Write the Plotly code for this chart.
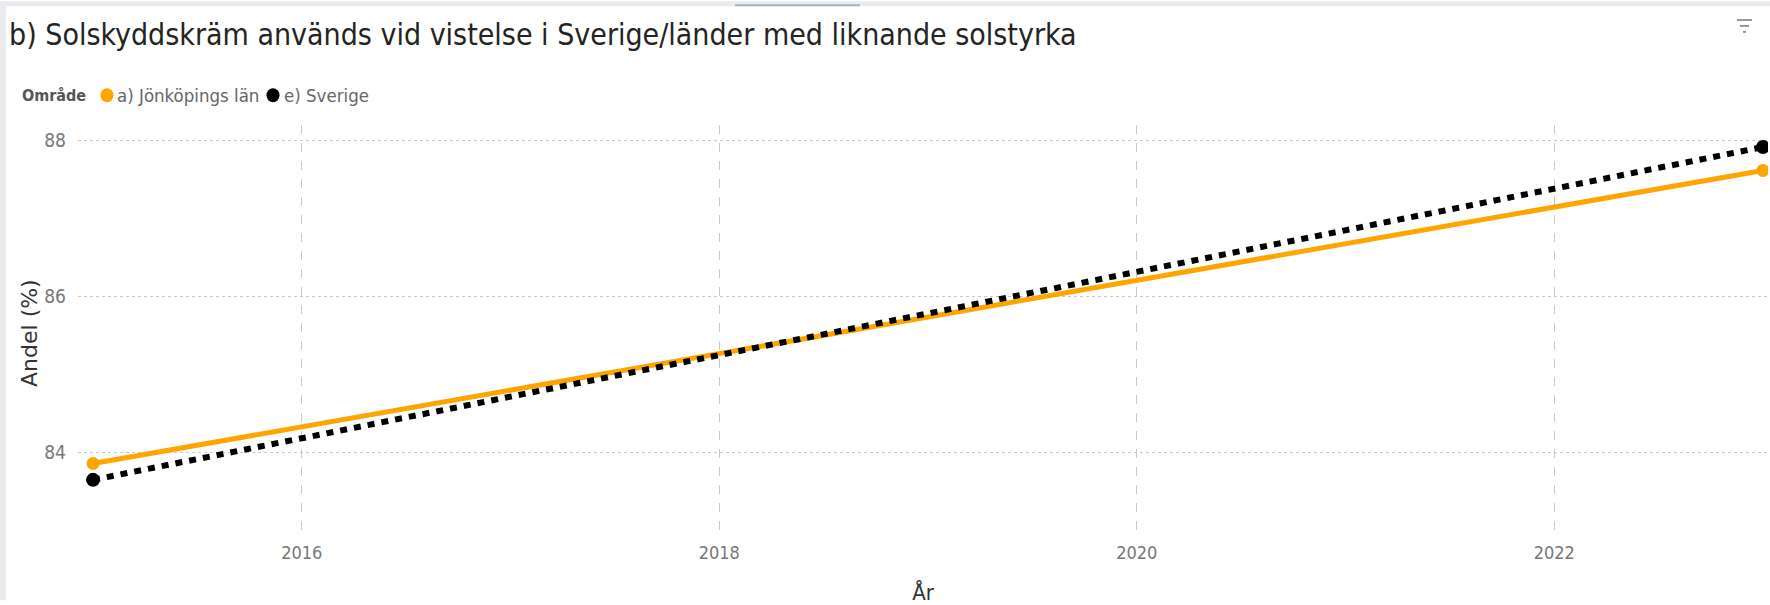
import plotly.graph_objects as go

# ---- data ----
years = [2015, 2023]
jonkoping = [83.86, 87.62]
sverige = [83.65, 87.92]
series_names = ["a) Jönköpings län", "e) Sverige"]
series_colors = ["#FFA500", "#000000"]
x_ticks = [2016, 2018, 2020, 2022]
y_ticks = [84, 86, 88]
title_text = "b) Solskyddskräm används vid vistelse i Sverige/länder med liknande solstyrka"
legend_title = "Område"
x_title = "År"
y_title = "Andel (%)"

# ---- layout geometry ----
W, H = 1770, 605
L, R, T, B = 78, 2, 125, 68
PW, PH = W - L - R, H - T - B


def px(x):
    return (x - L) / PW


def py(y):
    return (H - B - y) / PH


NARROW = "Liberation Sans Narrow, DejaVu Sans Condensed, Arial Narrow, Liberation Sans, sans-serif"

fig = go.Figure()
fig.add_trace(go.Scatter(
    x=years, y=jonkoping, mode="lines+markers", name=series_names[0],
    line=dict(color=series_colors[0], width=5),
    marker=dict(size=13, color=series_colors[0]), showlegend=False))
fig.add_trace(go.Scatter(
    x=years, y=sverige, mode="lines+markers", name=series_names[1],
    line=dict(color=series_colors[1], width=6, dash="7px,7px"),
    marker=dict(size=14, color=series_colors[1]), showlegend=False))

shapes = [
    # grey page strips
    dict(type="rect", xref="paper", yref="paper", x0=px(0), x1=px(6), y0=py(605), y1=py(0),
         fillcolor="#E9EBEF", line_width=0, layer="below"),
    dict(type="rect", xref="paper", yref="paper", x0=px(0), x1=px(1770), y0=py(5), y1=py(0),
         fillcolor="#E9EBEF", line_width=0, layer="below"),
    dict(type="rect", xref="paper", yref="paper", x0=px(735), x1=px(860), y0=py(5), y1=py(3),
         fillcolor="#9DB3C8", line_width=0, layer="below"),
    # filter icon
    dict(type="line", xref="paper", yref="paper", x0=px(1737), x1=px(1752), y0=py(19), y1=py(19),
         line=dict(color="#777", width=1.5)),
    dict(type="line", xref="paper", yref="paper", x0=px(1740), x1=px(1749), y0=py(25), y1=py(25),
         line=dict(color="#777", width=1.5)),
    dict(type="line", xref="paper", yref="paper", x0=px(1743), x1=px(1746), y0=py(31), y1=py(31),
         line=dict(color="#777", width=1.5)),
]

# legend (Power BI style: compact symbol + text)
legend_y = py(95)
annotations = [
    dict(text="<b>" + legend_title + "</b>", xref="paper", yref="paper", x=px(20), y=legend_y,
         xanchor="left", yanchor="middle", showarrow=False,
         font=dict(family=NARROW, size=16, color="#555555")),
    # y-axis title
    dict(text=y_title, xref="paper", yref="paper", x=px(30), y=py(335), textangle=-90,
         xanchor="center", yanchor="middle", showarrow=False,
         font=dict(family="DejaVu Sans", size=22, color="#333333")),
]
sym_x = [107, 273]
txt_x = [115, 282]
for nm, col, sx, tx in zip(series_names, series_colors, sym_x, txt_x):
    shapes.append(dict(type="circle", xref="paper", yref="paper", xsizemode="pixel", ysizemode="pixel",
                       xanchor=px(sx), yanchor=legend_y, x0=-6.5, x1=6.5, y0=-7, y1=7,
                       fillcolor=col, line_width=0))
    annotations.append(dict(text=nm, xref="paper", yref="paper", x=px(tx), y=legend_y,
                            xanchor="left", yanchor="middle", showarrow=False,
                            font=dict(family=NARROW, size=18.5, color="#666666")))

fig.update_layout(
    width=W, height=H,
    margin=dict(l=L, r=R, t=T, b=B, pad=0),
    paper_bgcolor="white", plot_bgcolor="white",
    title=dict(text=title_text, x=9 / W, xref="container", xanchor="left",
               y=1 - 34 / H, yref="container", yanchor="middle",
               font=dict(family=NARROW, size=30, color="#252423")),
    shapes=shapes,
    annotations=annotations,
    showlegend=False,
)
fig.update_xaxes(range=[2014.928, 2023.024], tickvals=x_ticks, ticktext=[str(v) for v in x_ticks],
                 showgrid=True, gridcolor="#C8C8C8", gridwidth=1, griddash="dash",
                 zeroline=False, showline=False, ticks="", ticklabelstandoff=7,
                 tickfont=dict(family=NARROW, size=18, color="#777777"),
                 title=dict(text=x_title, font=dict(family=NARROW, size=22, color="#333333"), standoff=25))
fig.update_yaxes(range=[82.968, 88.203], tickvals=y_ticks, ticktext=[str(v) for v in y_ticks],
                 showgrid=True, gridcolor="#C8C8C8", gridwidth=1, griddash="dot",
                 zeroline=False, showline=False, ticks="", ticklabelstandoff=11,
                 tickfont=dict(family=NARROW, size=19, color="#777777"))

fig.write_html("out.html", post_script="document.body.style.margin='0px';",
               config={"displayModeBar": False})
